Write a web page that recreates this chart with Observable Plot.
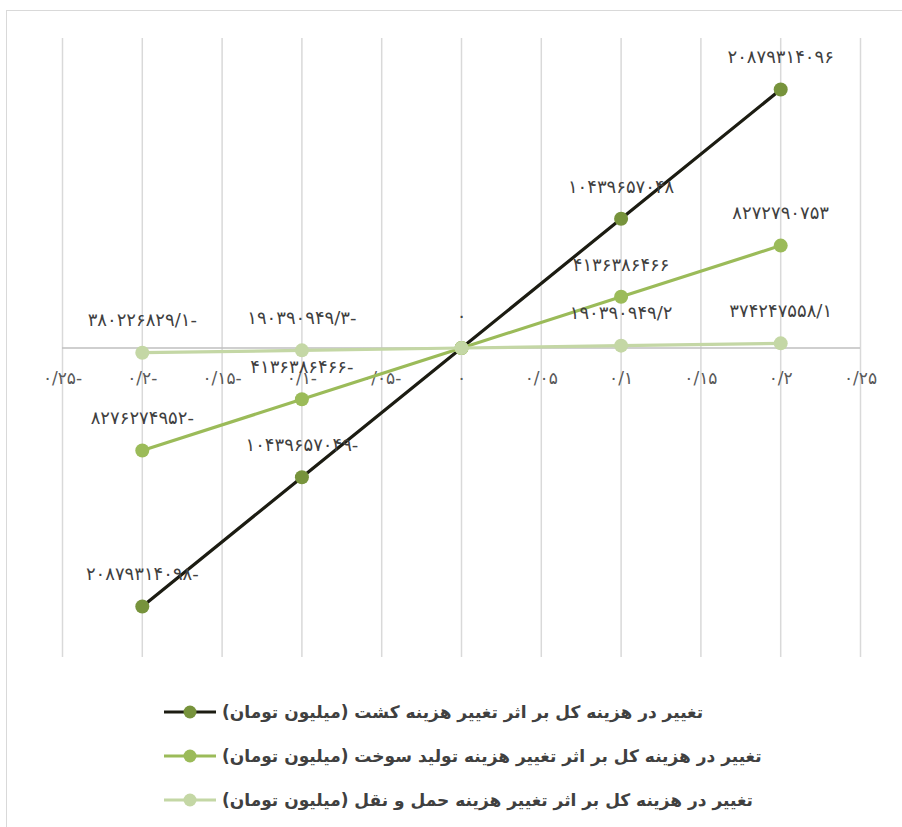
<!DOCTYPE html>
<html>
<head>
<meta charset="utf-8">
<script src="https://cdn.jsdelivr.net/npm/d3@7"></script>
<script src="https://cdn.jsdelivr.net/npm/@observablehq/plot@0.6"></script>
<style>
  html, body { margin: 0; padding: 0; background: #fff; }
  #wrap { position: relative; width: 902px; height: 827px; overflow: hidden; font-family: "DejaVu Sans", sans-serif; }
  #frame { position: absolute; left: 6px; top: 10px; width: 1000px; height: 1000px; border: 1.5px solid #d9d9d9; box-sizing: border-box; }
  #chart { position: absolute; left: 0; top: 0; }
  #legend { position: absolute; left: 163px; top: 690px; }
  .row { display: flex; align-items: center; height: 44px; }
  .row svg { margin-right: 5px; flex: none; }
  .row span { direction: rtl; unicode-bidi: embed; font-weight: bold; font-size: 17px; color: #404040; white-space: nowrap; }
</style>
</head>
<body>
<div id="wrap">
  <div id="frame"></div>
  <div id="chart"></div>
  <div id="legend"></div>
</div>
<script>
const xValues = [-0.2, -0.1, 0, 0.1, 0.2];
const cultivation = [-20879314.098, -10439657.049, 0, 10439657.048, 20879314.096];
const fuel = [-8276274.952, -4136386.466, 0, 4136386.466, 8272790.753];
const transport = [-380226.829, -190390.949, 0, 190390.949, 374247.558];

const cultivationLabels = ["۲۰۸۷۹۳۱۴۰۹۸-", "۱۰۴۳۹۶۵۷۰۴۹-", "", "۱۰۴۳۹۶۵۷۰۴۸", "۲۰۸۷۹۳۱۴۰۹۶"];
const fuelLabels = ["۸۲۷۶۲۷۴۹۵۲-", "۴۱۳۶۳۸۶۴۶۶-", "", "۴۱۳۶۳۸۶۴۶۶", "۸۲۷۲۷۹۰۷۵۳"];
const transportLabels = ["۳۸۰۲۲۶۸۲۹/۱-", "۱۹۰۳۹۰۹۴۹/۳-", "۰", "۱۹۰۳۹۰۹۴۹/۲", "۳۷۴۲۴۷۵۵۸/۱"];

const xTicks = [-0.25, -0.2, -0.15, -0.1, -0.05, 0, 0.05, 0.1, 0.15, 0.2, 0.25];
const xTickLabels = ["۰/۲۵-", "۰/۲-", "۰/۱۵-", "۰/۱-", "۰/۰۵-", "۰", "۰/۰۵", "۰/۱", "۰/۱۵", "۰/۲", "۰/۲۵"];

const seriesNames = [
  "تغییر در هزینه کل بر اثر تغییر هزینه کشت (میلیون تومان)",
  "تغییر در هزینه کل بر اثر تغییر هزینه تولید سوخت (میلیون تومان)",
  "تغییر در هزینه کل بر اثر تغییر هزینه حمل و نقل (میلیون تومان)"
];
const lineColors = ["#1c1c12", "#9bbb59", "#c4d7a5"];
const markerColors = ["#77933c", "#9bbb59", "#c4d7a5"];

const seriesValues = [cultivation, fuel, transport];
const seriesLabels = [cultivationLabels, fuelLabels, transportLabels];

const data = [];
seriesValues.forEach((vals, s) => {
  vals.forEach((v, i) => data.push({ s, x: xValues[i], y: v, label: seriesLabels[s][i] }));
});
const ticks = xTicks.map((t, i) => ({ t, label: xTickLabels[i] }));

const marks = [
  Plot.ruleX(ticks, { x: "t", y1: -25000000, y2: 25000000, stroke: "#d9d9d9", strokeWidth: 1.5 }),
  Plot.ruleY([0], { x1: -0.25, x2: 0.25, stroke: "#bfbfbf", strokeWidth: 1.5 }),
  Plot.text(ticks, { x: "t", y: 0, text: "label", dy: 31, fontSize: 17, fill: "#595959", fontFamily: "DejaVu Sans", style: "direction: ltr; letter-spacing: 1.5px" })
];
[0, 1, 2].forEach(s => {
  const d = data.filter(r => r.s === s);
  marks.push(Plot.line(d, { x: "x", y: "y", stroke: lineColors[s], strokeWidth: 3.2 }));
  marks.push(Plot.dot(d, { x: "x", y: "y", r: 7, fill: markerColors[s], stroke: "none" }));
});
[0, 1, 2].forEach(s => {
  const d = data.filter(r => r.s === s && r.label !== "");
  marks.push(Plot.text(d, { x: "x", y: "y", text: "label", dy: -32, fontSize: 18, fill: "#404040", fontFamily: "DejaVu Sans", style: "direction: ltr; letter-spacing: 2px" }));
});

const chart = Plot.plot({
  width: 902,
  height: 680,
  marginLeft: 62,
  marginRight: 42,
  marginTop: 38,
  marginBottom: 23,
  x: { domain: [-0.25, 0.25], axis: null },
  y: { domain: [-25000000, 25000000], axis: null },
  style: { background: "transparent", overflow: "visible" },
  marks
});
document.getElementById("chart").appendChild(chart);

const legend = document.getElementById("legend");
seriesNames.forEach((name, s) => {
  const row = document.createElement("div");
  row.className = "row";
  row.innerHTML = `<svg width="54" height="16"><line x1="1" y1="8" x2="53" y2="8" stroke="${lineColors[s]}" stroke-width="3.2"/><circle cx="27" cy="8" r="6.5" fill="${markerColors[s]}"/></svg><span>${name}</span>`;
  legend.appendChild(row);
});
</script>
</body>
</html>
